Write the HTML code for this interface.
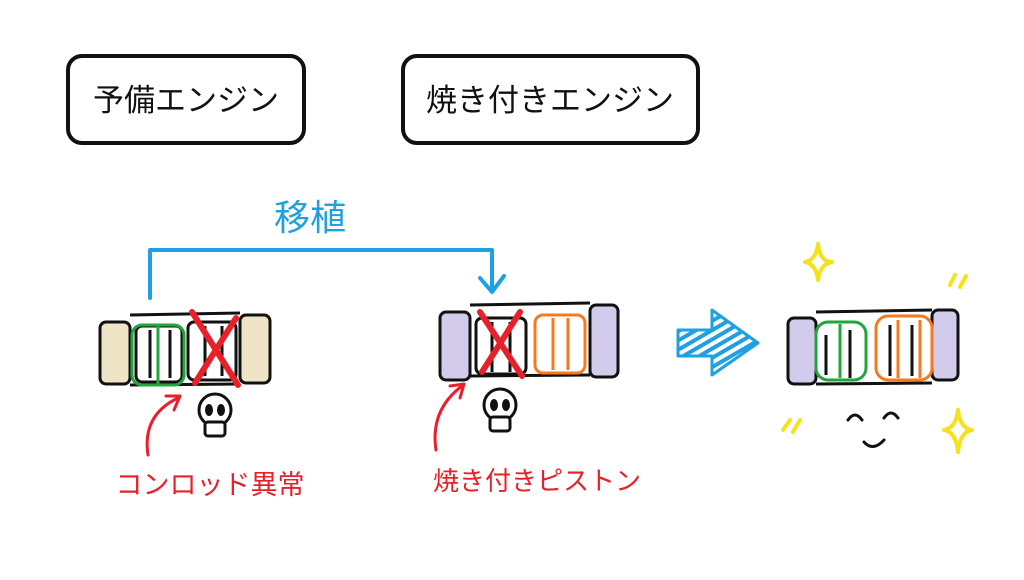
<!DOCTYPE html>
<html><head><meta charset="utf-8"><style>
html,body{margin:0;padding:0;background:#fff;width:1024px;height:580px;overflow:hidden}
text{font-family:"Liberation Sans","Noto Sans CJK JP",sans-serif}
</style></head><body>
<svg width="1024" height="580" viewBox="0 0 1024 580" xmlns="http://www.w3.org/2000/svg">
<defs>
<pattern id="hb" width="8" height="8" patternUnits="userSpaceOnUse" patternTransform="rotate(60)"><rect width="8" height="8" fill="#fff"/><rect width="4" height="8" fill="#1da1e2"/></pattern>
</defs>
<g fill="none" stroke="#111" stroke-width="4" stroke-linecap="round">
<rect x="68" y="56" width="236" height="87" rx="14"/>
<rect x="403" y="56" width="295" height="87" rx="14"/>
</g>
<text x="186" y="111" font-size="31" text-anchor="middle" fill="#111">予備エンジン</text>
<text x="550" y="111" font-size="31" text-anchor="middle" fill="#111">焼き付きエンジン</text>
<path d="M150 298 V250 H492 V290 M480 278 L492 292 L504 276" fill="none" stroke="#1da1e2" stroke-width="4" stroke-linecap="round" stroke-linejoin="round"/>
<text x="310" y="230" font-size="36" text-anchor="middle" fill="#1da1e2">移植</text>

<!-- engine 1 -->
<g stroke="#111" stroke-width="3" fill="none">
<rect x="100" y="322" width="30" height="62" rx="6" fill="#efe5c6"/>
<rect x="240" y="315" width="30" height="68" rx="6" fill="#efe5c6"/>
<line x1="130" y1="315" x2="240" y2="313"/>
<line x1="130" y1="385" x2="240" y2="384"/>
<rect x="136" y="326" width="46" height="56" rx="6"/>
<rect x="188" y="322" width="48" height="58" rx="6"/>
<line x1="150" y1="330" x2="150" y2="378"/><line x1="170" y1="330" x2="170" y2="378"/>
<line x1="205" y1="326" x2="205" y2="376"/><line x1="222" y1="326" x2="222" y2="376"/>
</g>
<rect x="132" y="325" width="52" height="60" rx="10" fill="none" stroke="#22a53a" stroke-width="3"/>
<line x1="158" y1="326" x2="158" y2="384" stroke="#22a53a" stroke-width="3"/>
<path d="M192 312 L238 385 M236 318 L195 383" stroke="#e8202a" stroke-width="6" stroke-linecap="round"/>

<!-- engine 2 -->
<g stroke="#111" stroke-width="3" fill="none">
<rect x="440" y="312" width="30" height="68" rx="6" fill="#d3cbeb"/>
<rect x="590" y="305" width="28" height="72" rx="6" fill="#d3cbeb"/>
<line x1="470" y1="305" x2="590" y2="303"/>
<line x1="470" y1="376" x2="590" y2="375"/>
<rect x="476" y="318" width="50" height="56" rx="6"/>
<line x1="492" y1="322" x2="492" y2="372"/><line x1="510" y1="322" x2="510" y2="372"/>
</g>
<rect x="535" y="315" width="50" height="58" rx="8" fill="none" stroke="#f47a20" stroke-width="3"/>
<line x1="553" y1="318" x2="553" y2="370" stroke="#f47a20" stroke-width="3"/><line x1="568" y1="318" x2="568" y2="370" stroke="#f47a20" stroke-width="3"/>
<path d="M480 312 L522 376 M520 312 L482 372" stroke="#e8202a" stroke-width="6" stroke-linecap="round"/>

<!-- arrow -->
<path d="M678 330 H712 V310 L758 343 L712 375 V356 H678 Z" fill="url(#hb)" stroke="#1da1e2" stroke-width="3" stroke-linejoin="round"/>

<!-- engine 3 -->
<g stroke="#111" stroke-width="3" fill="none">
<rect x="788" y="318" width="28" height="66" rx="6" fill="#d3cbeb"/>
<rect x="932" y="310" width="26" height="70" rx="6" fill="#d3cbeb"/>
<line x1="816" y1="312" x2="932" y2="310"/>
<line x1="816" y1="384" x2="932" y2="383"/>
<line x1="826" y1="335" x2="826" y2="375"/><line x1="850" y1="330" x2="850" y2="378"/>
<line x1="890" y1="325" x2="890" y2="376"/><line x1="912" y1="325" x2="912" y2="376"/>
</g>
<rect x="816" y="322" width="50" height="58" rx="12" fill="none" stroke="#22a53a" stroke-width="3"/>
<line x1="840" y1="324" x2="840" y2="378" stroke="#22a53a" stroke-width="3"/>
<rect x="876" y="316" width="56" height="64" rx="12" fill="none" stroke="#f47a20" stroke-width="3"/>
<line x1="898" y1="320" x2="898" y2="378" stroke="#f47a20" stroke-width="3"/><line x1="920" y1="320" x2="920" y2="378" stroke="#f47a20" stroke-width="3"/>

<!-- sparkles -->
<g fill="none" stroke="#f5e21a" stroke-width="4" stroke-linecap="round" stroke-linejoin="round">
<path d="M818 244 Q820 262 832 262 Q820 264 818 280 Q816 264 805 262 Q816 260 818 244Z"/>
<path d="M958 410 Q960 428 972 430 Q960 432 958 452 Q956 432 944 430 Q956 428 958 410Z"/>
<path d="M955 275 L950 285 M966 276 L960 287"/>
<path d="M790 420 L783 430 M800 420 L793 432"/>
</g>
<g fill="none" stroke="#111" stroke-width="3" stroke-linecap="round">
<path d="M848 420 Q855 410 862 420 M884 418 Q891 408 898 418 M864 442 Q873 452 884 440"/>
</g>

<!-- skulls -->
<g stroke="#111" stroke-width="3" fill="#fff">
<circle cx="215" cy="410" r="16"/><rect x="205" y="422" width="20" height="14" rx="3"/>
<circle cx="500" cy="405" r="16"/><rect x="490" y="417" width="20" height="14" rx="3"/>
</g>
<g fill="#111"><ellipse cx="209" cy="410" rx="4" ry="6"/><ellipse cx="221" cy="410" rx="4" ry="6"/>
<ellipse cx="494" cy="405" rx="4" ry="6"/><ellipse cx="506" cy="405" rx="4" ry="6"/></g>

<!-- red arrows -->
<g fill="none" stroke="#e8202a" stroke-width="3" stroke-linecap="round" stroke-linejoin="round">
<path d="M148 455 Q142 415 178 398 M166 396 L180 396 L174 410"/>
<path d="M436 450 Q430 410 462 386 M450 386 L464 384 L460 398"/>
</g>
<text x="210" y="494" font-size="27" text-anchor="middle" fill="#e8202a">コンロッド異常</text>
<text x="537" y="490" font-size="26" text-anchor="middle" fill="#e8202a">焼き付きピストン</text>
</svg>
</body></html>
